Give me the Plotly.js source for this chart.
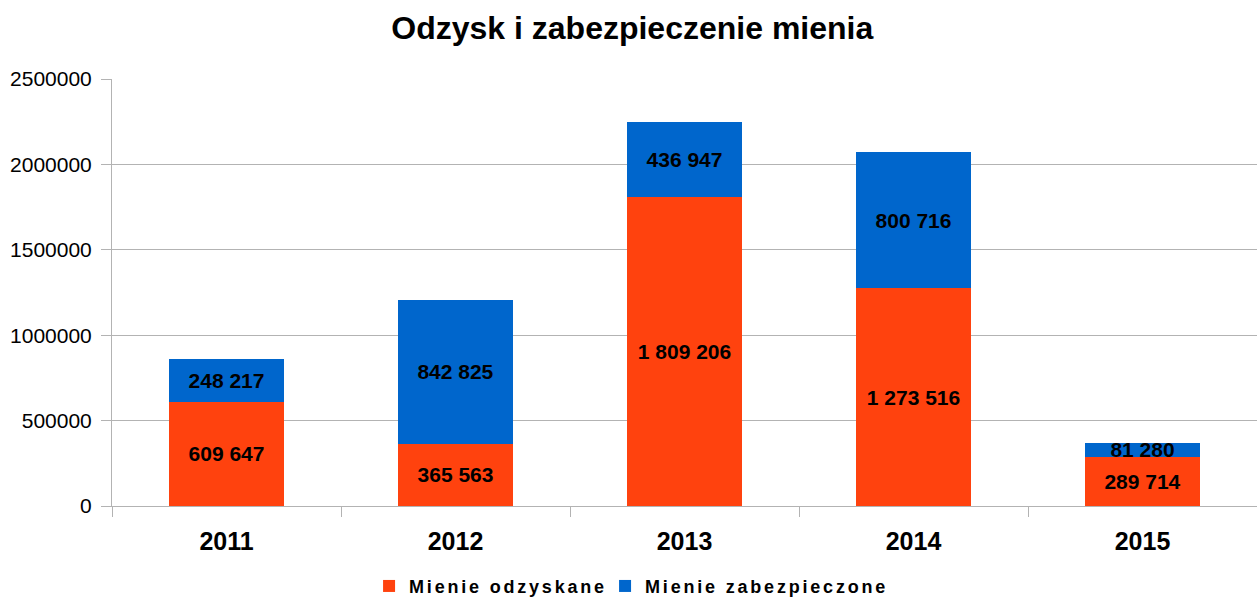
<!DOCTYPE html>
<html>
<head>
<meta charset="utf-8">
<script src="https://cdn.plot.ly/plotly-3.0.1.min.js"></script>
<style>
html,body{margin:0;padding:0;background:#fff;}
#chart{width:1257px;height:597px;}
.legend .legendtext{letter-spacing:2.8px;}
.legend .scrollbox{clip-path:none !important;}
</style>
</head>
<body>
<div id="chart"></div>
<script>
const years = ['2011', '2012', '2013', '2014', '2015'];
const odzyskane = [609647, 365563, 1809206, 1273516, 289714];
const zabezpieczone = [248217, 842825, 436947, 800716, 81280];
const seriesNames = ['Mienie odzyskane', 'Mienie zabezpieczone'];
const yTicks = [0, 500000, 1000000, 1500000, 2000000, 2500000];

const FONT = 'Liberation Sans, Arial, sans-serif';
const labelFont = {family: FONT, size: 21, color: '#000', weight: 'bold'};

const traces = [
  {
    type: 'bar', name: seriesNames[0], x: years, y: odzyskane,
    marker: {color: '#ff420e'}, width: 0.5,
    texttemplate: '%{y:,}', textposition: 'inside', insidetextanchor: 'middle',
    constraintext: 'none', textfont: labelFont, hoverinfo: 'none'
  },
  {
    type: 'bar', name: seriesNames[1], x: years, y: zabezpieczone,
    marker: {color: '#0066cc'}, width: 0.5,
    texttemplate: '%{y:,}', textposition: 'inside', insidetextanchor: 'middle',
    constraintext: 'none', textfont: labelFont, hoverinfo: 'none'
  }
];

const layout = {
  width: 1257, height: 597,
  barmode: 'stack',
  separators: '. ',
  paper_bgcolor: '#fff', plot_bgcolor: '#fff',
  margin: {l: 112, r: 0, t: 79, b: 91},
  font: {family: FONT, color: '#000'},
  title: {
    text: 'Odzysk i zabezpieczenie mienia',
    font: {family: FONT, size: 32, weight: 'bold', color: '#000'},
    xref: 'container', x: 0.503, y: 0.953, yanchor: 'middle'
  },
  xaxis: {
    type: 'category',
    tickson: 'boundaries', ticks: 'outside', ticklen: 10, tickcolor: '#b3b3b3',
    showline: true, linecolor: '#b3b3b3', linewidth: 1,
    showgrid: false,
    tickfont: {family: FONT, size: 25, weight: 'bold', color: '#000'},
    ticklabelstandoff: 13
  },
  yaxis: {
    range: [0, 2500000], tickvals: yTicks, tickformat: 'd',
    showgrid: true, gridcolor: '#b3b3b3', gridwidth: 1,
    zeroline: true, zerolinecolor: '#b3b3b3',
    showline: true, linecolor: '#b3b3b3',
    ticks: 'outside', ticklen: 10, tickcolor: '#b3b3b3',
    tickfont: {family: FONT, size: 21, color: '#000'},
    ticklabelstandoff: 5
  },
  showlegend: true,
  legend: {
    orientation: 'h', xref: 'container', yref: 'container',
    x: 0.2936, xanchor: 'left', y: 0.018, yanchor: 'middle',
    font: {family: FONT, size: 18, weight: 'bold', color: '#000'},
    entrywidth: 191, entrywidthmode: 'pixels',
    itemwidth: 30, tracegroupgap: 0, traceorder: 'normal'
  }
};

Plotly.newPlot('chart', traces, layout, {displayModeBar: false, staticPlot: true});
</script>
</body>
</html>
